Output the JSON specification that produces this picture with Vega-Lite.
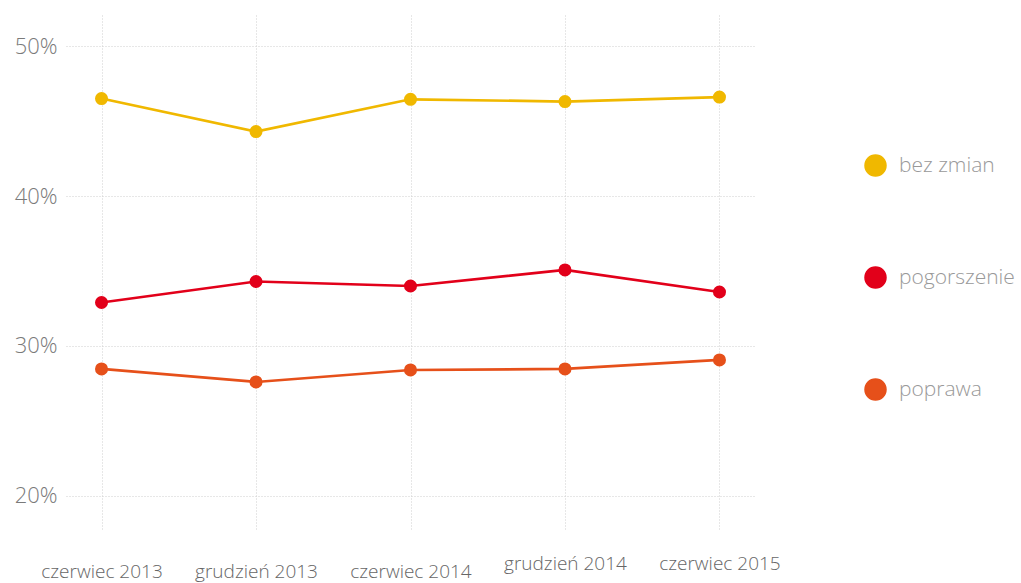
{
  "$schema": "https://vega.github.io/schema/vega-lite/v6.json",
  "width": 689,
  "height": 515,
  "autosize": {"type": "none"},
  "padding": {"left": 66, "top": 15, "right": 266, "bottom": 53},
  "background": "white",
  "config": {
    "view": {"stroke": null},
    "font": "Open Sans"
  },
  "data": {
    "values": [
      {"okres": "czerwiec 2013", "kategoria": "bez zmian", "wartosc": 46.5},
      {"okres": "grudzień 2013", "kategoria": "bez zmian", "wartosc": 44.3},
      {"okres": "czerwiec 2014", "kategoria": "bez zmian", "wartosc": 46.45},
      {"okres": "grudzień 2014", "kategoria": "bez zmian", "wartosc": 46.3},
      {"okres": "czerwiec 2015", "kategoria": "bez zmian", "wartosc": 46.6},
      {"okres": "czerwiec 2013", "kategoria": "pogorszenie", "wartosc": 32.9},
      {"okres": "grudzień 2013", "kategoria": "pogorszenie", "wartosc": 34.3},
      {"okres": "czerwiec 2014", "kategoria": "pogorszenie", "wartosc": 34.0},
      {"okres": "grudzień 2014", "kategoria": "pogorszenie", "wartosc": 35.07},
      {"okres": "czerwiec 2015", "kategoria": "pogorszenie", "wartosc": 33.6},
      {"okres": "czerwiec 2013", "kategoria": "poprawa", "wartosc": 28.47},
      {"okres": "grudzień 2013", "kategoria": "poprawa", "wartosc": 27.6},
      {"okres": "czerwiec 2014", "kategoria": "poprawa", "wartosc": 28.4},
      {"okres": "grudzień 2014", "kategoria": "poprawa", "wartosc": 28.47},
      {"okres": "czerwiec 2015", "kategoria": "poprawa", "wartosc": 29.07}
    ]
  },
  "encoding": {
    "x": {
      "field": "okres",
      "type": "ordinal",
      "sort": ["czerwiec 2013", "grudzień 2013", "czerwiec 2014", "grudzień 2014", "czerwiec 2015"],
      "scale": {"type": "point", "padding": 0.23},
      "axis": {
        "title": null,
        "domain": false,
        "ticks": false,
        "labelAngle": 0,
        "labelFont": "Open Sans",
        "labelFontSize": 19,
        "labelFontWeight": 300,
        "labelColor": "#666666",
        "labelBaseline": "alphabetic",
        "labelPadding": {"condition": {"test": "datum.value == 'grudzień 2014' || datum.value == 'czerwiec 2015'", "value": 39}, "value": 47},
        "grid": true,
        "gridColor": "#cfcfcf",
        "gridDash": [1, 2],
        "gridWidth": 1
      }
    },
    "y": {
      "field": "wartosc",
      "type": "quantitative",
      "scale": {"domain": [17.73, 52.07], "nice": false, "zero": false},
      "axis": {
        "title": null,
        "domain": false,
        "ticks": false,
        "values": [20, 30, 40, 50],
        "labelExpr": "datum.value + '%'",
        "labelFont": "Open Sans",
        "labelFontSize": 22,
        "labelFontWeight": 300,
        "labelColor": "#7a7a7a",
        "labelPadding": 9,
        "grid": true,
        "gridColor": "#cfcfcf",
        "gridDash": [1, 2],
        "gridWidth": 1
      }
    },
    "color": {
      "field": "kategoria",
      "type": "nominal",
      "scale": {
        "domain": ["bez zmian", "pogorszenie", "poprawa"],
        "range": ["#f0b800", "#e2001a", "#e6501a"]
      },
      "legend": {
        "title": null,
        "orient": "none",
        "legendX": 798,
        "legendY": 139,
        "direction": "vertical",
        "rowPadding": 83,
        "symbolType": "circle",
        "symbolSize": 420,
        "symbolStrokeColor": "#dcdcdc",
        "symbolStrokeWidth": 2,
        "symbolOpacity": 1,
        "labelFont": "Open Sans",
        "labelFontSize": 21,
        "labelFontWeight": 300,
        "labelColor": "#999999",
        "labelOffset": 12
      }
    }
  },
  "layer": [
    {"mark": {"type": "line", "strokeWidth": 2.7}},
    {"mark": {"type": "point", "filled": true, "size": 170, "opacity": 1}}
  ]
}
